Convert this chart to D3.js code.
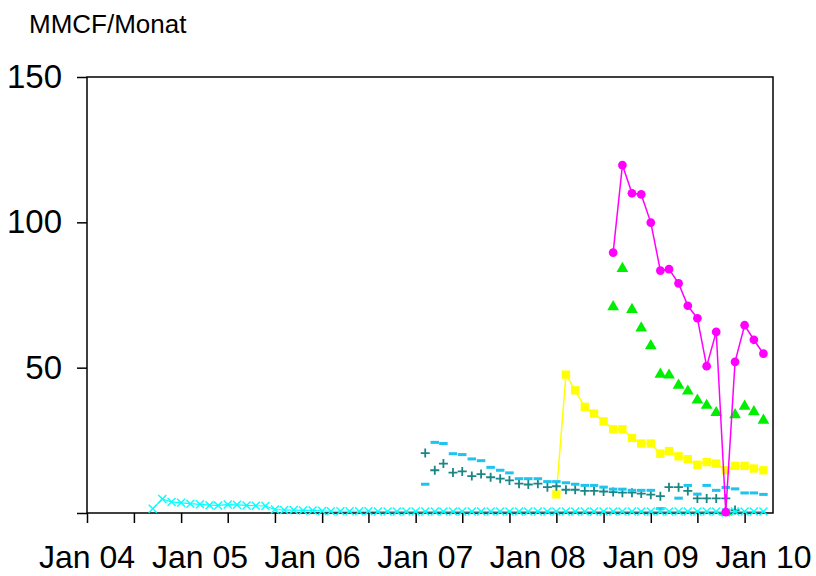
<!DOCTYPE html>
<html>
<head>
<meta charset="utf-8">
<script src="https://cdn.jsdelivr.net/npm/d3@7"></script>
<style>
  html, body { margin: 0; padding: 0; background: #fff; }
  svg { display: block; font-family: "Liberation Sans", Arial, Helvetica, sans-serif; }
</style>
</head>
<body>
<svg id="chart" width="816" height="576"></svg>
<script>
// ---- Data (monthly values, MMCF/Monat) ----
const yAxisTitle = "MMCF/Monat";
const yTicks = [0, 50, 100, 150];
const yTickLabels = ["", "50", "100", "150"];
const xYearLabels = ["Jan 04", "Jan 05", "Jan 06", "Jan 07", "Jan 08", "Jan 09", "Jan 10"];
const xYearDates = ["2004-01", "2005-01", "2006-01", "2007-01", "2008-01", "2009-01", "2010-01"];

const magentaStart = "2008-09";
const magentaValues = [89.6, 119.7, 110.0, 109.6, 99.9, 83.4, 83.9, 79.0, 71.3, 67.0, 50.5, 62.3, 0.3, 52.0, 64.6, 59.6, 54.8];

const greenStart = "2008-09";
const greenValues = [70.9, 84.1, 70.0, 63.6, 57.5, 47.7, 47.4, 43.9, 41.9, 38.8, 37.0, 34.5, 0.3, 33.8, 36.7, 34.8, 31.9];

const yellowStart = "2008-03";
const yellowValues = [6.4, 47.6, 42.2, 36.5, 34.2, 31.5, 28.8, 28.8, 25.8, 23.9, 23.9, 20.4, 21.3, 19.5, 18.5, 16.6, 17.5, 17.0, 14.7, 16.2, 16.2, 15.3, 14.7];

const tealStart = "2007-01";
const tealValues = [20.6, 14.7, 17.0, 13.9, 14.3, 12.7, 13.4, 12.3, 11.8, 11.2, 10.1, 9.8, 10.1, 8.9, 9.2, 8.0, 8.0, 7.6, 7.6, 7.4, 7.2, 7.0, 7.0, 6.7, 6.3, 5.8, 8.9, 8.9, 7.6, 5.0, 5.0, 5.0, 5.0, 1.0];

const blueStart = "2007-01";
const blueValues = [9.9, 24.3, 23.9, 20.4, 20.1, 18.6, 18.0, 15.7, 14.7, 13.8, 11.8, 11.8, 11.8, 10.8, 10.8, 10.4, 9.9, 9.5, 9.5, 8.9, 8.2, 8.2, 7.8, 7.8, 7.8, 1.5, null, 5.1, 9.5, 6.5, 9.5, 7.8, 8.8, 8.3, 6.9, 6.9, 6.4];

const cyanStart = "2004-08";
const cyanValues = [1.5, 4.8, 3.8, 3.5, 3.2, 3.0, 2.7, 2.6, 2.9, 2.8, 2.6, 2.5, 2.4, 1.2, 1.0, 1.0, 0.9, 0.9, 0.7,
  0.6, 0.6, 0.6, 0.6, 0.6, 0.5, 0.5, 0.5, 0.5, 0.5, 0.5, 0.5, 0.5, 0.5, 0.5, 0.5, 0.5, 0.5, 0.5, 0.5,
  0.5, 0.5, 0.5, 0.5, 0.5, 0.5, 0.5, 0.5, 0.5, 0.5, 0.5, 0.5, 0.5, 0.5, 0.5, 0.5, 0.5, 0.5, 0.5, 0.5,
  0.5, 0.5, 0.2, 0.5, 0.5, 0.5, 0.5];

// ---- Helpers ----
const parseMonth = d3.utcParse("%Y-%m");
function toSeries(start, values) {
  const s = parseMonth(start);
  return values.map((v, i) => ({ date: d3.utcMonth.offset(s, i), value: v }));
}

const svg = d3.select("#chart");
const margin = { left: 87, right: 43, top: 77, bottom: 63 };
const W = 816, H = 576;

const x = d3.scaleUtc()
  .domain([parseMonth("2004-01"), parseMonth("2010-02")])
  .range([margin.left, W - margin.right]);
const y = d3.scaleLinear()
  .domain([0, 150])
  .range([H - margin.bottom, margin.top]);

// Plot frame
svg.append("rect")
  .attr("x", x.range()[0]).attr("y", y.range()[1])
  .attr("width", x.range()[1] - x.range()[0])
  .attr("height", y.range()[0] - y.range()[1])
  .attr("fill", "none").attr("stroke", "#000").attr("stroke-width", 1.5);

// Y axis
const yAxis = d3.axisLeft(y).tickValues(yTicks).tickSize(10)
  .tickFormat((d, i) => yTickLabels[i]);
const gy = svg.append("g").attr("transform", `translate(${x.range()[0]},0)`).call(yAxis);
gy.select(".domain").remove();
gy.selectAll(".tick line").attr("stroke", "#000").attr("stroke-width", 1.5);
gy.selectAll(".tick text").attr("font-size", 33).attr("fill", "#000").attr("x", -25)
  .attr("font-family", "Liberation Sans, Arial, sans-serif");

// X axis: ticks every 5 months, year labels separately
const xTickDates = d3.utcMonth.every(1).range(parseMonth("2004-01"), parseMonth("2010-02"))
  .filter((d, i) => i % 5 === 0);
const xAxis = d3.axisBottom(x).tickValues(xTickDates).tickSize(10).tickFormat("");
const gx = svg.append("g").attr("transform", `translate(0,${y.range()[0]})`).call(xAxis);
gx.select(".domain").remove();
gx.selectAll(".tick line").attr("stroke", "#000").attr("stroke-width", 1.5);

svg.append("g").selectAll("text")
  .data(xYearLabels)
  .join("text")
  .attr("x", (d, i) => x(parseMonth(xYearDates[i])))
  .attr("y", 568)
  .attr("text-anchor", "middle")
  .attr("font-size", 32)
  .attr("fill", "#000")
  .text(d => d);

// Title
svg.append("text")
  .attr("x", 29).attr("y", 33)
  .attr("font-size", 26).attr("fill", "#000")
  .text(yAxisTitle);

// ---- Series ----
const plot = svg.append("g");
const lineGen = d3.line()
  .defined(d => d.value != null)
  .x(d => x(d.date)).y(d => y(d.value));

function drawSymbols(data, type, size, fill, stroke, sw) {
  plot.append("g").selectAll("path")
    .data(data.filter(d => d.value != null))
    .join("path")
    .attr("transform", d => `translate(${x(d.date)},${y(d.value)})`)
    .attr("d", d3.symbol().type(type).size(size))
    .attr("fill", fill)
    .attr("stroke", stroke || "none")
    .attr("stroke-width", sw || 0);
}

// Green triangles
const green = toSeries(greenStart, greenValues);
drawSymbols(green, d3.symbolTriangle, 60, "#00ee00");

// Yellow squares with line
const yellow = toSeries(yellowStart, yellowValues);
plot.append("path").datum(yellow).attr("d", lineGen)
  .attr("fill", "none").attr("stroke", "#ffff00").attr("stroke-width", 1.5);
drawSymbols(yellow, d3.symbolSquare, 70, "#ffff00");

// Teal plus markers
const teal = toSeries(tealStart, tealValues);
const plusSym = { draw(ctx, size) { const r = Math.sqrt(size) / 2; ctx.moveTo(-r, 0); ctx.lineTo(r, 0); ctx.moveTo(0, -r); ctx.lineTo(0, r); } };
drawSymbols(teal, plusSym, 81, "none", "#1a8585", 1.8);

// Blue dashes
const blue = toSeries(blueStart, blueValues);
const dashSym = { draw(ctx, size) { const r = Math.sqrt(size) / 2; ctx.rect(-r, -1.5, 2 * r, 3); } };
drawSymbols(blue, dashSym, 72, "#1ec3f0");

// Cyan x markers with line
const cyan = toSeries(cyanStart, cyanValues);
plot.append("path").datum(cyan).attr("d", lineGen)
  .attr("fill", "none").attr("stroke", "#00ffff").attr("stroke-width", 1.2);
const xSym = { draw(ctx, size) { const r = Math.sqrt(size) / 2; ctx.moveTo(-r, -r); ctx.lineTo(r, r); ctx.moveTo(-r, r); ctx.lineTo(r, -r); } };
drawSymbols(cyan, xSym, 64, "none", "#00ffff", 1.4);

// Magenta circles with line
const magenta = toSeries(magentaStart, magentaValues);
plot.append("path").datum(magenta).attr("d", lineGen)
  .attr("fill", "none").attr("stroke", "#ff00ff").attr("stroke-width", 1.5);
drawSymbols(magenta, d3.symbolCircle, 60, "#ff00ff");
</script>
</body>
</html>
